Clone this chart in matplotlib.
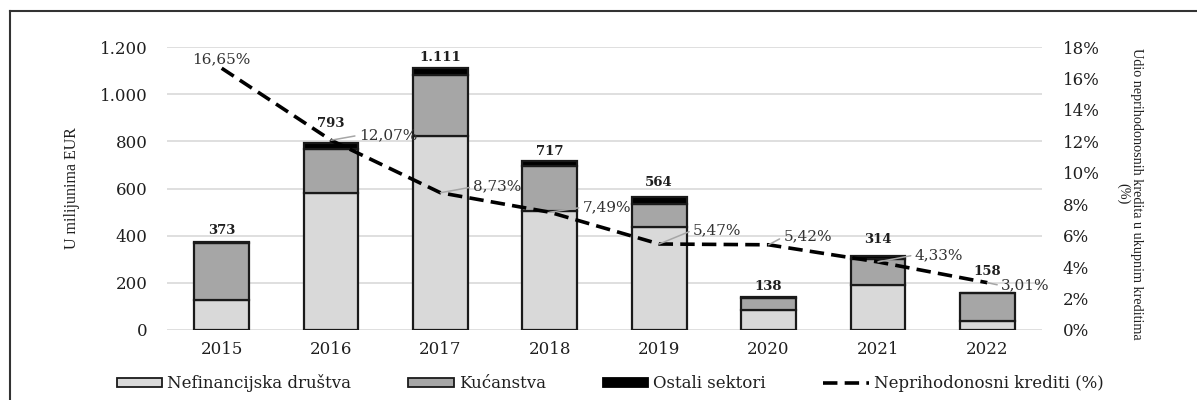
import matplotlib.pyplot as plt
from matplotlib.lines import Line2D
from matplotlib.patches import Patch

years = ["2015", "2016", "2017", "2018", "2019", "2020", "2021", "2022"]
nefin = [126, 583, 821, 505, 438, 84, 192, 39]
kucan = [245, 184, 261, 192, 95, 53, 110, 117]
ostali = [2, 26, 29, 20, 31, 1, 12, 2]
totals = [373, 793, 1111, 717, 564, 138, 314, 158]
npl = [16.65, 12.07, 8.73, 7.49, 5.47, 5.42, 4.33, 3.01]

left_ticks = [0, 200, 400, 600, 800, 1000, 1200]
right_ticks = [0, 2, 4, 6, 8, 10, 12, 14, 16, 18]

SERIF = ["DejaVu Serif"]
TIMES = ["Liberation Serif", "DejaVu Serif"]
TXT = "#1f1f1f"
DASH = (0, (4, 2))


def thousands(v):
    return "{:,}".format(v).replace(",", ".")


def pct(v):
    return "{:.2f}%".format(v).replace(".", ",")


def main():
    fig = plt.figure(figsize=(11.97, 4.0), dpi=100)
    ax = fig.add_axes([167 / 1197, 1 - 330 / 400, 875 / 1197, 283 / 400])
    ax2 = ax.twinx()

    x = list(range(len(years)))
    w = 0.5
    edge = dict(edgecolor="#1a1a1a", linewidth=1.6)
    bottom2 = [a + b for a, b in zip(nefin, kucan)]
    ax.bar(x, nefin, w, color="#d9d9d9", zorder=2, **edge)
    ax.bar(x, kucan, w, bottom=nefin, color="#a6a6a6", zorder=2, **edge)
    ax.bar(x, ostali, w, bottom=bottom2, color="black", zorder=2, **edge)

    # value labels on top of bars (pixel pad above each bar)
    value_pad = [5, 13, 4, 3, 8, 4, 10, 15]
    for i, t in enumerate(totals):
        ax.annotate(thousands(t), (x[i], t), xytext=(0, value_pad[i]),
                    textcoords="offset pixels", ha="center", va="bottom",
                    fontsize=9.5, fontweight="bold", family=SERIF, color=TXT,
                    zorder=5)

    ax.set_xlim(-0.5, len(years) - 0.5)
    ax.set_ylim(0, 1200)
    ax.set_yticks(left_ticks)
    ax.set_yticklabels([thousands(v) for v in left_ticks])
    ax.set_xticks(x)
    ax.set_xticklabels(years)
    ax.grid(axis="y", color="#d9d9d9", linewidth=1.2, zorder=0)
    ax.set_axisbelow(True)
    for sp in ax.spines.values():
        sp.set_visible(False)
    for sp in ax2.spines.values():
        sp.set_visible(False)
    ax.tick_params(axis="both", length=0, labelsize=12, labelcolor=TXT)
    ax.tick_params(axis="y", pad=14)
    ax.tick_params(axis="x", pad=8)
    for lab in ax.get_xticklabels() + ax.get_yticklabels():
        lab.set_family(SERIF)

    ax.set_ylabel("U milijunima EUR", fontsize=11.5, family=TIMES, color=TXT)
    ax.yaxis.set_label_coords(-0.1, 0.5)

    # NPL share line
    ax2.plot(x, npl, color="black", linewidth=2.6, linestyle=DASH, zorder=4)
    ax2.set_ylim(0, 18)
    ax2.set_yticks(right_ticks)
    ax2.set_yticklabels(["{}%".format(v) for v in right_ticks])
    ax2.tick_params(axis="y", length=0, labelsize=12, labelcolor=TXT, pad=15)
    for lab in ax2.get_yticklabels():
        lab.set_family(SERIF)
    ax2.set_ylabel("Udio neprihodonosnih kredita u ukupnim kreditima\n(%)",
                   rotation=270, fontsize=10.2, family=TIMES, color=TXT,
                   va="center", ha="center", multialignment="center",
                   linespacing=1.0)
    ax2.yaxis.set_label_coords(1.1, 0.48)

    pct_offsets = [(0, 2), (28, 5), (33, 6), (33, 5), (34, 14), (15, 8), (37, 7), (14, -3)]
    for i, v in enumerate(npl):
        dx, dy = pct_offsets[i]
        if i == 0:
            ax2.annotate(pct(v), (x[i], v), xytext=(dx, dy),
                         textcoords="offset pixels", ha="center", va="bottom",
                         fontsize=11, family=SERIF, color="#333333", zorder=6)
            continue
        ax2.annotate(pct(v), (x[i], v), xytext=(dx, dy),
                     textcoords="offset pixels", ha="left", va="center",
                     fontsize=11, family=SERIF, color="#333333", zorder=6,
                     arrowprops=dict(arrowstyle="-", color="#a6a6a6", lw=1.1,
                                     shrinkA=1, shrinkB=0, relpos=(0, 0.5)))

    handles = [
        Patch(facecolor="#d9d9d9", edgecolor="#1a1a1a", linewidth=1.3),
        Patch(facecolor="#a6a6a6", edgecolor="#1a1a1a", linewidth=1.3),
        Patch(facecolor="black", edgecolor="black", linewidth=1.3),
        Line2D([], [], color="black", linewidth=2.6, linestyle=DASH),
    ]
    labels = ["Nefinancijska društva", "Kućanstva", "Ostali sektori",
              "Neprihodonosni krediti (%)"]
    fig.legend(handles, labels, loc="center", ncol=4, frameon=False,
               bbox_to_anchor=(610 / 1197, 1 - 383 / 400),
               prop={"family": SERIF, "size": 12}, handlelength=2.75,
               handleheight=0.45, handletextpad=0.3, columnspacing=3.4,
               labelcolor=TXT)

    # outer frame (cut off at right and bottom like the source)
    fx = 10 / 1197
    fy = 1 - 11 / 400
    fig.add_artist(Line2D([fx, fx], [0, fy], color="#333333", linewidth=1.5))
    fig.add_artist(Line2D([fx, 1], [fy, fy], color="#333333", linewidth=1.5))

    fig.savefig("out.png", dpi=100)


if __name__ == "__main__":
    main()
